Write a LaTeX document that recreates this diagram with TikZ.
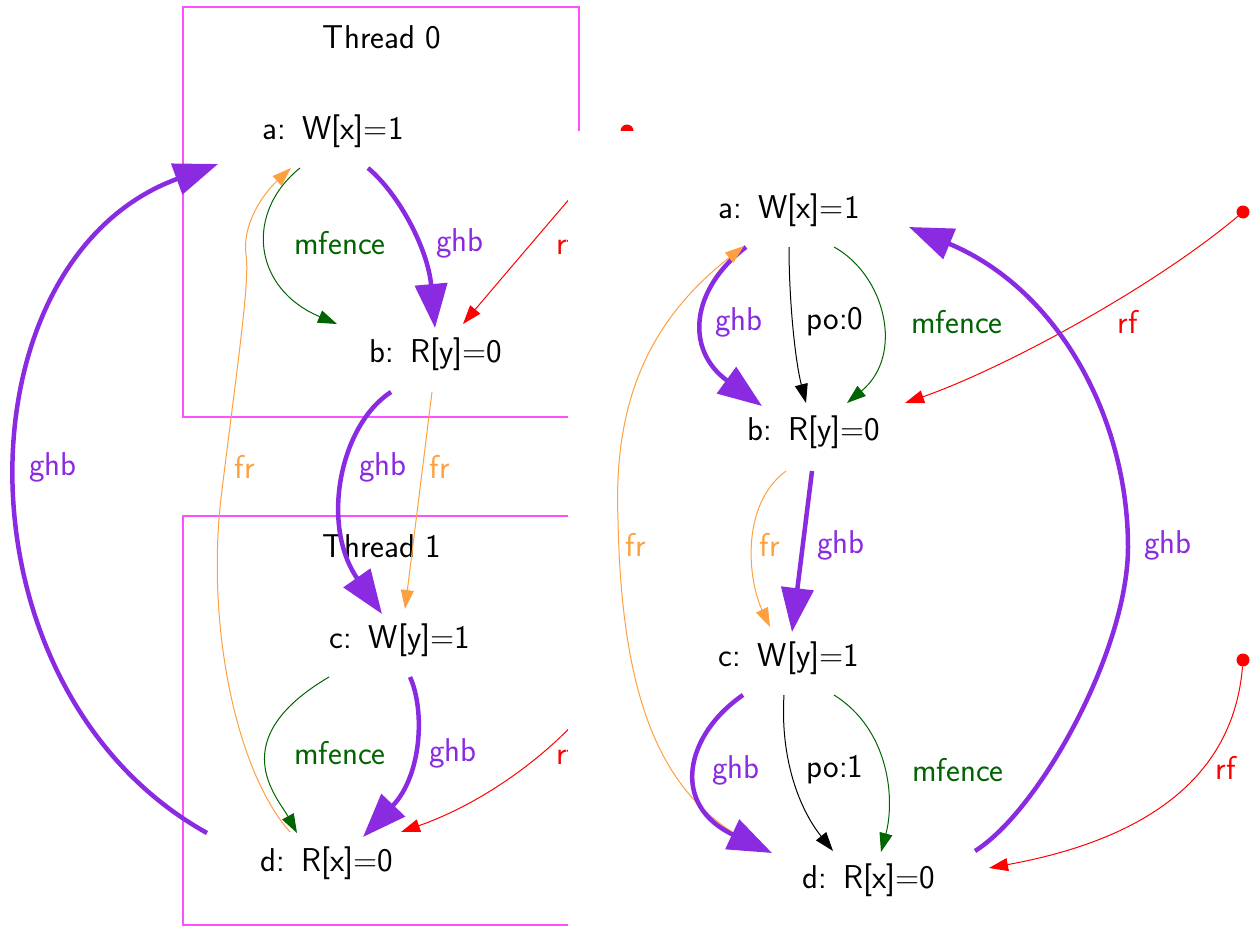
\documentclass[tikz,border=0pt]{standalone}
\usepackage{fontspec}
\usetikzlibrary{arrows.meta,calc}
\definecolor{ghbcol}{HTML}{8A2BE2}
\definecolor{fencecol}{HTML}{006400}
\definecolor{frcol}{HTML}{FFA040}
\definecolor{boxcol}{HTML}{FF50FF}
\begin{document}
\begin{tikzpicture}[x=1pt,y=-1pt,font=\sffamily\fontsize{33}{39}\selectfont,
  ev/.style={inner sep=0pt},lbl/.style={inner sep=0pt},
  ghbe/.style={draw=ghbcol,line width=4.5pt,-{Triangle[length=44pt,width=32pt]}},
  lite/.style={line width=1pt,-{Triangle[length=19pt,width=13pt]}},
  fre/.style={lite,draw=frcol},mfe/.style={lite,draw=fencecol},
  rfe/.style={lite,draw=red},poe/.style={lite,draw=black},
  thr/.style={draw=boxcol,line width=1.2pt},
  rdot/.style={circle,fill=red,inner sep=0pt,minimum size=13pt}]
\useasboundingbox (0,0) rectangle (1256,926);
\draw[thr] (183,7) rectangle (579,417);\draw[thr] (183,516) rectangle (579,925);
\node (t0) at (382,37) {Thread 0};\node (t1) at (382,546) {Thread 1};
\node[ev] (la) at (333,131) {a:\hspace{.5em}W[x]=1};\node[ev] (lb) at (436,354) {b:\hspace{.5em}R[y]=0};
\node[ev] (lc) at (400,640) {c:\hspace{.5em}W[y]=1};\node[ev] (ld) at (327,863) {d:\hspace{.5em}R[x]=0};
\node[rdot] (ls0) at (627,131) {};\node[rdot] (ls1) at (627,640) {};
\draw[mfe] ($(la)+(-33,37)$) .. controls (245,212) and (252,288) .. ($(lb)+(-99,-30)$);
\draw[ghbe] ($(la)+(35,37)$) .. controls (400,195) and (428,250) .. ($(lb)+(-1,-26)$);
\draw[rfe] (ls0) .. controls (590,175) and (500,280) .. ($(lb)+(27,-30)$);
\draw[ghbe] ($(ld)+(-120,-30)$) .. controls (-50,690) and (-45,260) .. ($(la)+(-115,33)$);
\draw[fre] ($(ld)+(-37,-31)$) .. controls (235,770) and (205,620) .. (222,490) .. controls (238,360) and (250,280) .. (246,255) .. controls (242,225) and (262,195) .. ($(la)+(-42,37)$);
\draw[ghbe] ($(lb)+(-45,38)$) .. controls (340,425) and (320,525) .. ($(lc)+(-18,-26)$);
\draw[fre] ($(lb)+(-4,38)$) -- ($(lc)+(5,-31)$);
\draw[mfe] ($(lc)+(-71,37)$) .. controls (222,740) and (278,798) .. ($(ld)+(-30,-30)$);
\draw[ghbe] ($(lc)+(10,37)$) .. controls (425,710) and (422,775) .. ($(ld)+(36,-26)$);
\draw[rfe] (ls1) .. controls (610,700) and (520,790) .. ($(ld)+(74,-31)$);
\node[lbl,text=fencecol] (lm0) at (340,243) {mfence};\node[lbl,text=ghbcol] (lg0) at (460,243) {ghb};
\node[lbl,text=red,anchor=west] (lr0) at (556,243) {rf};
\node[lbl,text=ghbcol] (lg1) at (53,467) {ghb};\node[lbl,text=frcol] (lf1) at (245,467) {fr};
\node[lbl,text=ghbcol] (lg2) at (383,467) {ghb};\node[lbl,text=frcol] (lf2) at (440,467) {fr};
\node[lbl,text=fencecol] (lm3) at (340,753) {mfence};\node[lbl,text=ghbcol] (lg3) at (453,753) {ghb};
\node[lbl,text=red,anchor=west] (lr3) at (556,753) {rf};
\fill[white] (568,131) rectangle (1256,926);
\node[ev] (ra) at (789,210) {a:\hspace{.5em}W[x]=1};\node[ev] (rb) at (814,432) {b:\hspace{.5em}R[y]=0};
\node[ev] (rc) at (789,658) {c:\hspace{.5em}W[y]=1};\node[ev] (rd) at (869,880) {d:\hspace{.5em}R[x]=0};
\node[rdot] (rs0) at (1243,212) {};\node[rdot] (rs1) at (1243,660) {};
\draw[ghbe] ($(ra)+(-43,37)$) .. controls (690,290) and (685,350) .. ($(rb)+(-52,-26)$);
\draw[poe] ($(ra)+(0,37)$) .. controls (789,300) and (795,360) .. ($(rb)+(-8,-29)$);
\draw[mfe] ($(ra)+(45,37)$) .. controls (885,275) and (905,355) .. ($(rb)+(33,-29)$);
\draw[rfe] (rs0) .. controls (1150,290) and (1000,370) .. ($(rb)+(91,-29)$);
\draw[fre] ($(rd)+(-99,-28)$) .. controls (670,810) and (622,720) .. (618,520) .. controls (613,400) and (650,320) .. ($(ra)+(-45,36)$);
\draw[ghbe] ($(rb)+(-2,39)$) -- ($(rc)+(3,-26)$);
\draw[fre] ($(rb)+(-28,39)$) .. controls (740,505) and (748,580) .. ($(rc)+(-19,-31)$);
\draw[ghbe] ($(rc)+(-46,37)$) .. controls (685,735) and (670,805) .. ($(rd)+(-97,-27)$);
\draw[poe] ($(rc)+(-5,37)$) .. controls (780,760) and (800,810) .. ($(rd)+(-36,-29)$);
\draw[mfe] ($(rc)+(45,37)$) .. controls (890,730) and (895,800) .. ($(rd)+(12,-28)$);
\draw[ghbe] ($(rd)+(106,-29)$) .. controls (1040,810) and (1128,650) .. (1128,547) .. controls (1128,420) and (1060,290) .. ($(ra)+(120,17)$);
\draw[rfe] (rs1) .. controls (1235,760) and (1170,835) .. ($(rd)+(120,-12)$);
\node[lbl,text=ghbcol] (rg0) at (739,322) {ghb};\node[lbl] (rp0) at (835,322) {po:0};
\node[lbl,text=fencecol] (rm0) at (957,322) {mfence};\node[lbl,text=red] (rr0) at (1128,322) {rf};
\node[lbl,text=frcol] (rf1) at (636,545) {fr};\node[lbl,text=frcol] (rf2) at (770,545) {fr};
\node[lbl,text=ghbcol] (rg2) at (841,545) {ghb};\node[lbl,text=ghbcol] (rg4) at (1168,545) {ghb};
\node[lbl,text=ghbcol] (rg3) at (736,770) {ghb};\node[lbl] (rp3) at (835,770) {po:1};
\node[lbl,text=fencecol] (rm3) at (958,770) {mfence};\node[lbl,text=red] (rr3) at (1226,768) {rf};
\end{tikzpicture}
\end{document}
